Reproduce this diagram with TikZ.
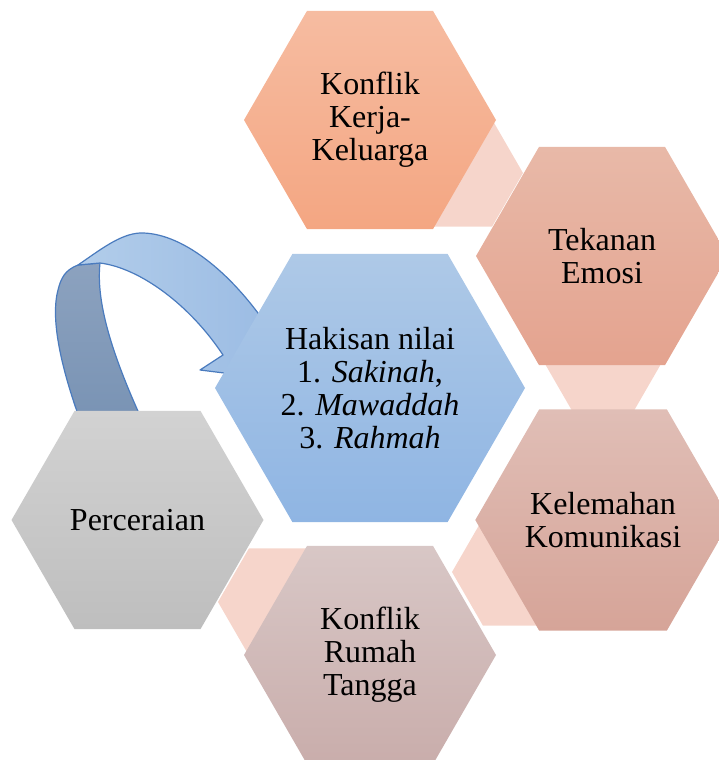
\documentclass[tikz,border=0pt]{standalone}
\usepackage{fontspec}
\setmainfont{Liberation Serif}
\usepackage{tikz}
\usetikzlibrary{shapes.geometric}

\definecolor{kerjatop}{HTML}{F6BCA1}
\definecolor{kerjabot}{HTML}{F4A682}
\definecolor{tekanantop}{HTML}{E8B9A8}
\definecolor{tekananbot}{HTML}{E4A38F}
\definecolor{hakisantop}{HTML}{AEC9E7}
\definecolor{hakisanbot}{HTML}{8FB5E3}
\definecolor{ceraitop}{HTML}{D2D2D2}
\definecolor{ceraibot}{HTML}{BEBEBE}
\definecolor{komtop}{HTML}{E0BEB6}
\definecolor{kombot}{HTML}{D6A498}
\definecolor{rumahtop}{HTML}{D8C7C6}
\definecolor{rumahbot}{HTML}{C9ADAB}
\definecolor{jointpink}{HTML}{F6D5CB}
\definecolor{ribbonline}{HTML}{4A7BBE}
\definecolor{sidetop}{HTML}{8CA2BF}
\definecolor{sidebot}{HTML}{7993B4}
\definecolor{facel}{HTML}{B2CDEA}
\definecolor{facer}{HTML}{99BAE3}

\begin{document}
\begin{tikzpicture}[x=1pt, y=-1pt,
            hexa/.style = {regular polygon, regular polygon sides=6,
                           minimum size=252pt, inner sep=0pt, align=center,
                           font=\fontsize{32}{33}\selectfont},
            joint/.style = {regular polygon, regular polygon sides=6,
                            minimum size=124pt, inner sep=0pt, fill=jointpink},
            ribbon/.style = {draw=ribbonline, line width=1.2pt, line join=round}]
        \useasboundingbox (0,0) rectangle (719,760);
        \clip (0,0) rectangle (719,760);
        \node[joint] (j1) at (461,173) {};
        \node[joint] (j2) at (603,357) {};
        \node[joint] (j3) at (514,572) {};
        \node[joint] (j4) at (280,602) {};
        \path[ribbon, top color=sidetop, bottom color=sidebot]
            (80,420) .. controls (62,370) and (50,320) .. (58,290)
            .. controls (61,278) and (65,270) .. (78,265) -- (100,263)
            .. controls (96,300) and (110,350) .. (142,420) -- cycle;
        \path[ribbon, left color=facel, right color=facer]
            (78,265) .. controls (100,250) and (120,234) .. (140,233)
            .. controls (180,232) and (230,270) .. (270,330)
            -- (290,350) -- (240,380) -- (224,373) -- (200,370) -- (223,355)
            .. controls (190,305) and (140,268) .. (100,263) -- cycle;
        \node[hexa, top color=kerjatop, bottom color=kerjabot] (kerja) at (370,120)
            {Konflik\\Kerja-\\Keluarga};
        \node[hexa, top color=tekanantop, bottom color=tekananbot] (tekanan) at (602,256)
            {Tekanan\\Emosi};
        \node[hexa, minimum size=310pt, top color=hakisantop, bottom color=hakisanbot] (hakisan) at (370,388)
            {Hakisan nilai\\1. \textit{Sakinah},\\2. \textit{Mawaddah}\\3. \textit{Rahmah}};
        \node[hexa, top color=ceraitop, bottom color=ceraibot] (cerai) at (137.5,520)
            {Perceraian};
        \node[hexa, top color=komtop, bottom color=kombot] (komunikasi) at (603,520)
            {Kelemahan\\Komunikasi};
        \node[hexa, top color=rumahtop, bottom color=rumahbot] (rumah) at (370,655)
            {Konflik\\Rumah\\Tangga};
\end{tikzpicture}
\end{document}
